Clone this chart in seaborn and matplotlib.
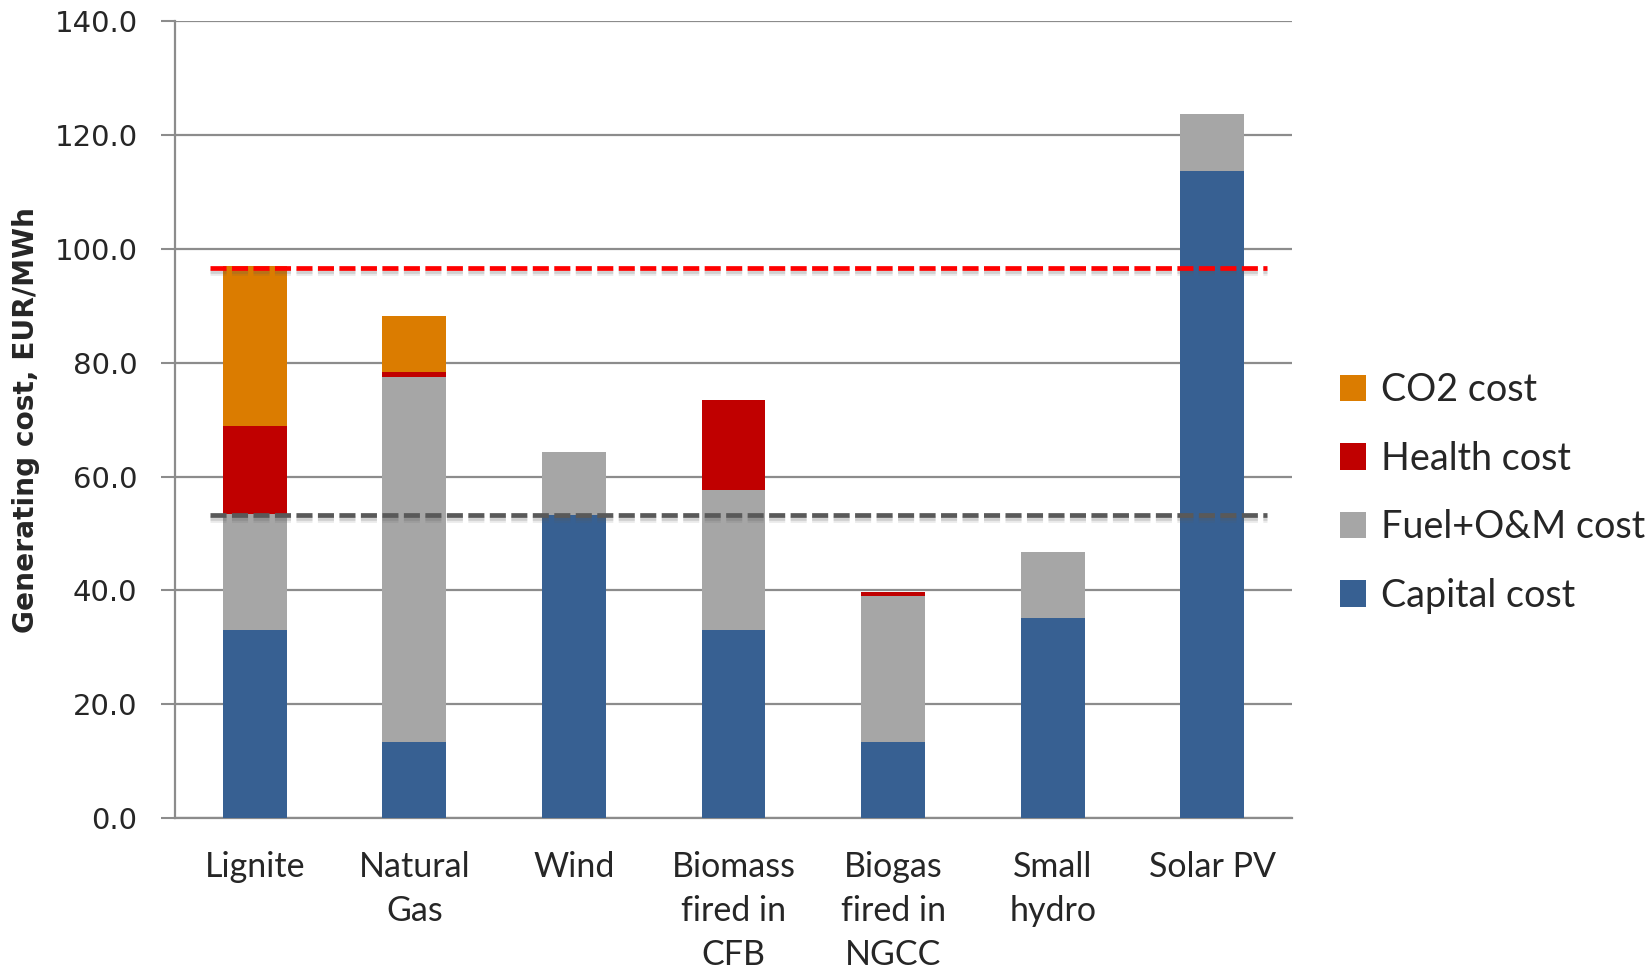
import matplotlib
matplotlib.use("Agg")
import matplotlib.pyplot as plt
import matplotlib.patheffects as pe
from matplotlib.patches import Patch
import numpy as np
import pandas as pd
import seaborn as sns

# Cost components per technology, EUR/MWh
technologies = ["Lignite", "Natural\nGas", "Wind", "Biomass\nfired in\nCFB",
                "Biogas\nfired in\nNGCC", "Small\nhydro", "Solar PV"]
capital_cost = [33.1, 13.3, 53.3, 33.1, 13.3, 35.1, 113.7]
fuel_om_cost = [20.4, 64.2, 11.1, 24.6, 25.7, 11.7, 10.1]
health_cost = [15.4, 0.8, 0.0, 15.7, 0.75, 0.0, 0.0]
co2_cost = [28.1, 9.9, 0.0, 0.0, 0.0, 0.0, 0.0]

# Reference levels drawn as dashed lines
upper_reference = 96.7
lower_reference = 53.3

yticks = [0, 20, 40, 60, 80, 100, 120, 140]

colors = {
    "CO2 cost": "#DB7C00",
    "Health cost": "#C00000",
    "Fuel+O&M cost": "#A6A6A6",
    "Capital cost": "#376092",
}

sns.set_theme(style="white")
plt.rcParams["font.family"] = ["Lato", "DejaVu Sans"]

df = pd.DataFrame({
    "tech": technologies,
    "Capital cost": capital_cost,
    "Fuel+O&M cost": fuel_om_cost,
    "Health cost": health_cost,
    "CO2 cost": co2_cost,
})
layers = ["Capital cost", "Fuel+O&M cost", "Health cost", "CO2 cost"]
cumulative = df[layers].cumsum(axis=1)

fig = plt.figure(figsize=(16.51, 9.72), dpi=100)
ax = fig.add_axes([0.106, 0.1584, 0.6766, 0.8196])

# Stack by overdrawing cumulative totals, tallest first
for layer in reversed(layers):
    sns.barplot(x=df["tech"], y=cumulative[layer], order=technologies,
                color=colors[layer], width=0.4, saturation=1,
                linewidth=0, edgecolor="none", ax=ax, zorder=3)

n = len(technologies)
line_x = np.array([-0.28, n - 1 + 0.34])
shadow = [pe.SimpleLineShadow(offset=(0, -3.5), shadow_color="0.35", alpha=0.12),
          pe.SimpleLineShadow(offset=(0, -2.5), shadow_color="0.35", alpha=0.18),
          pe.Normal()]
ax.plot(line_x, [upper_reference] * 2, color="#FF0000", lw=3.4,
        dashes=(3.4, 1.15), zorder=5, path_effects=shadow, solid_capstyle="butt")
ax.plot(line_x, [lower_reference] * 2, color="#595959", lw=3.4,
        dashes=(3.4, 1.15), zorder=5, path_effects=shadow, solid_capstyle="butt")

ax.set_xlim(-0.5, n - 0.5)
ax.set_ylim(0, 140)
ax.set_yticks(yticks)
ax.set_yticklabels([f"{v:.1f}" for v in yticks], family="DejaVu Sans", fontsize=21)
ax.yaxis.grid(True, color="#8C8C8C", lw=1.6, zorder=0)
ax.set_axisbelow(True)

# Category labels without ticks; tick marks at category boundaries
ax.set_xticks(range(n))
ax.set_xticklabels(technologies, fontsize=24.5, linespacing=1.45)
ax.tick_params(axis="x", which="major", length=0, pad=24)
ax.set_xticks(np.arange(-0.5, n, 1.0), minor=True)
ax.tick_params(axis="x", which="minor", length=10, width=1.5, color="#8C8C8C", direction="out")
ax.tick_params(axis="y", which="major", length=10, width=1.5, color="#8C8C8C",
               direction="out", pad=17, left=True)
ax.set_xlabel("")
ax.set_ylabel("Generating cost, EUR/MWh", fontsize=20.2, fontweight="bold",
              family="DejaVu Sans", labelpad=10)

for side in ["top", "right"]:
    ax.spines[side].set_visible(False)
for side in ["left", "bottom"]:
    ax.spines[side].set_color("#8C8C8C")
    ax.spines[side].set_linewidth(1.6)

handles = [Patch(facecolor=colors[k], edgecolor="none") for k in reversed(layers)]
fig.legend(handles, list(reversed(layers)), loc="center left",
           bbox_to_anchor=(0.791, 0.493), frameon=False, fontsize=27.2,
           handlelength=0.7, handleheight=0.7, handletextpad=0.4, labelspacing=0.86)

fig.savefig("out.png", dpi=100)
